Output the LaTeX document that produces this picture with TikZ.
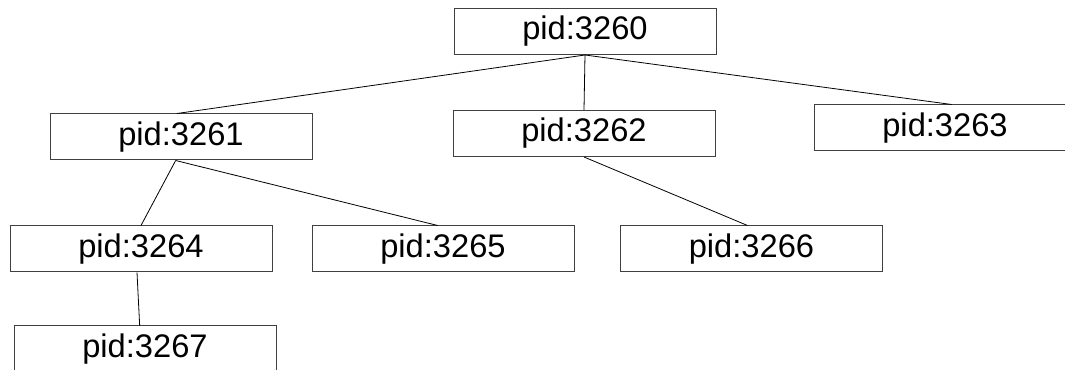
\documentclass[tikz,border=0pt]{standalone}
\usepackage{fontspec}
\setmainfont{Liberation Sans}
\usepackage{xcolor}
\usepackage{tikz}

\begin{document}
\begin{tikzpicture}[x=0.75pt, y=-0.75pt, proc/.style={rectangle, minimum width=196.5pt, minimum height=34.5pt, inner sep=0pt, text centered, draw=black!75, line width=0.75pt, font=\fontsize{24.5}{27}\selectfont}]
\useasboundingbox (0,0) rectangle (1065,370);
\clip (0,0) rectangle (1065,370);

\node (p3260) [proc] at (585,31.5) {pid:3260};

\node (p3261) [proc] at (181,137) {pid:3261};

\node (p3262) [proc] at (584,133.5) {pid:3262};

\node (p3263) [proc] at (945,128) {pid:3263};

\node (p3264) [proc] at (141,249) {pid:3264};

\node (p3265) [proc] at (443,249) {pid:3265};

\node (p3266) [proc] at (751.5,249) {pid:3266};

\node (p3267) [proc] at (145,349) {pid:3267};

\draw[line width=0.6pt] (p3260.south) -- ([xshift=-3pt]p3261.north);
\draw[line width=0.6pt] (p3260.south) -- (p3262.north);
\draw[line width=0.6pt] (p3260.south) -- ([xshift=5pt]p3263.north);
\draw[line width=0.6pt] ([xshift=-4pt]p3261.south) -- (p3264.north);
\draw[line width=0.6pt] ([xshift=-4pt]p3261.south) -- ([xshift=-4pt]p3265.north);
\draw[line width=0.6pt] (p3262.south) -- ([xshift=-3pt]p3266.north);
\draw[line width=0.6pt] ([xshift=-3pt]p3264.south) -- ([xshift=-4pt]p3267.north);

\end{tikzpicture}
\end{document}
